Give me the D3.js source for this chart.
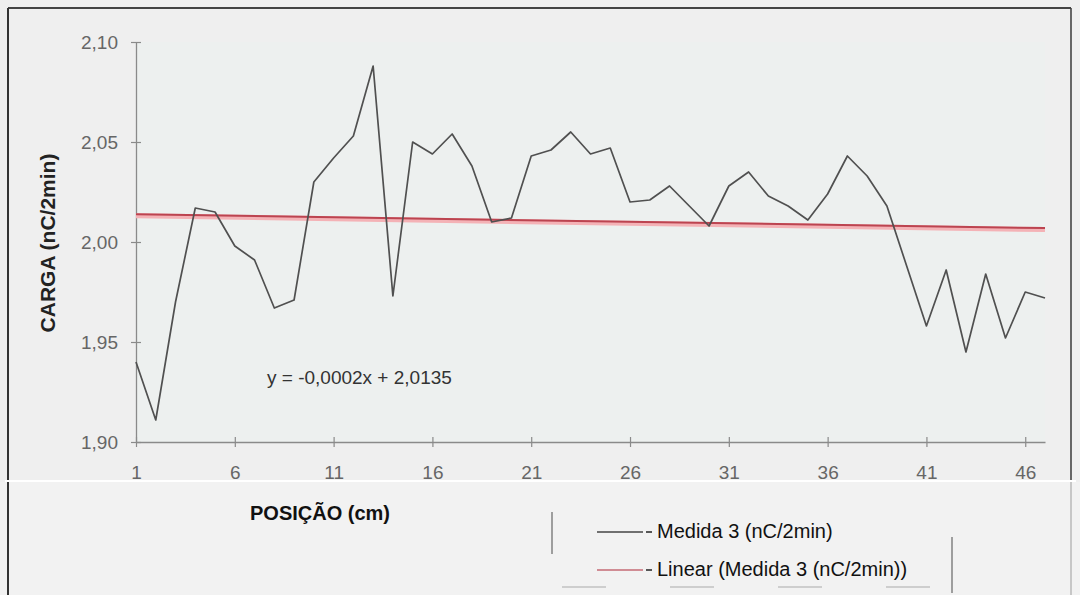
<!DOCTYPE html>
<html>
<head>
<meta charset="utf-8">
<script src="https://cdn.jsdelivr.net/npm/d3@7"></script>
<style>
  body { margin: 0; background: #efefef; }
  svg { display: block; }
</style>
</head>
<body>
<div id="chart"></div>
<script>
// positions along the sample (cm)
const positions = [1, 2, 3, 4, 5, 6, 7, 8, 9, 10, 11, 12, 13, 14, 15, 16, 17, 18, 19, 20,
  21, 22, 23, 24, 25, 26, 27, 28, 29, 30, 31, 32, 33, 34, 35, 36, 37, 38, 39, 40,
  41, 42, 43, 44, 45, 46, 47];
// Medida 3 (nC/2min)
const medida3 = [1.940, 1.911, 1.970, 2.017, 2.015, 1.998, 1.991, 1.967, 1.971, 2.030,
  2.042, 2.053, 2.088, 1.973, 2.050, 2.044, 2.054, 2.038, 2.010, 2.012,
  2.043, 2.046, 2.055, 2.044, 2.047, 2.020, 2.021, 2.028, 2.018, 2.008,
  2.028, 2.035, 2.023, 2.018, 2.011, 2.024, 2.043, 2.033, 2.018, 1.988,
  1.958, 1.986, 1.945, 1.984, 1.952, 1.975, 1.972];
// trend line as drawn on the picture
const trendSlope = -0.00015;
const trendIntercept = 2.0140;
const equationLabel = "y = -0,0002x + 2,0135";
const xTicks = [1, 6, 11, 16, 21, 26, 31, 36, 41, 46];
const yTicks = [1.90, 1.95, 2.00, 2.05, 2.10];
const legendLabels = ["Medida 3 (nC/2min)", "Linear (Medida 3 (nC/2min))"];

const font = "'Liberation Sans', Arial, sans-serif";
const locale = d3.formatLocale({ decimal: ",", thousands: ".", grouping: [3], currency: ["", ""] });
const fmt = locale.format(".2f");

const svg = d3.select("#chart").append("svg").attr("width", 1080).attr("height", 595);

// page background, lower part slightly lighter (scanned in two pieces)
svg.append("rect").attr("width", 1080).attr("height", 595).attr("fill", "#efefef");
svg.append("rect").attr("x", 0).attr("y", 482).attr("width", 1080).attr("height", 113).attr("fill", "#f2f2f2");

const x = d3.scaleLinear().domain([1, 47]).range([136, 1045]);
const y = d3.scaleLinear().domain([1.90, 2.10]).range([442, 42]);

// plot area
svg.append("rect").attr("x", x(1)).attr("y", y(2.10))
  .attr("width", x(47) - x(1)).attr("height", y(1.90) - y(2.10))
  .attr("fill", "#edf0ef");

// y axis
const yAxis = svg.append("g").attr("transform", "translate(" + x(1) + ",0)")
  .call(d3.axisLeft(y).tickValues(yTicks).tickFormat(fmt).tickSizeInner(5).tickSizeOuter(0).tickPadding(13));
yAxis.selectAll(".tick line").attr("x1", 5).attr("x2", -5);

// x axis
const xAxis = svg.append("g").attr("transform", "translate(0," + y(1.90) + ")")
  .call(d3.axisBottom(x).tickValues(xTicks).tickFormat(d3.format("d")).tickSizeInner(5).tickSizeOuter(0).tickPadding(19));
xAxis.selectAll(".tick line").attr("y1", -5).attr("y2", 5);

[yAxis, xAxis].forEach(g => {
  g.select(".domain").attr("stroke", "#8a8a8a").attr("stroke-width", 1.3);
  g.selectAll(".tick line").attr("stroke", "#8a8a8a").attr("stroke-width", 1.2);
  g.selectAll(".tick text").attr("fill", "#666").style("font-family", font).style("font-size", "19px");
});

// trend line
const trendPts = d3.extent(positions).map(p => [p, trendIntercept + trendSlope * p]);
const lineT = d3.line().x(d => x(d[0])).y(d => y(d[1]));
svg.append("path").datum(trendPts).attr("d", lineT)
  .attr("fill", "none").attr("stroke", "#f4b2b6").attr("stroke-width", 5)
  .attr("transform", "translate(0,1.5)");
svg.append("path").datum(trendPts).attr("d", lineT)
  .attr("fill", "none").attr("stroke", "#bc4450").attr("stroke-width", 2);

// series line
const lineS = d3.line().x((d, i) => x(positions[i])).y(d => y(d));
svg.append("path").datum(medida3).attr("d", lineS)
  .attr("fill", "none").attr("stroke", "#505050").attr("stroke-width", 1.7)
  .attr("stroke-linejoin", "round");

// equation
svg.append("text").attr("x", 267).attr("y", 384)
  .style("font-family", font).style("font-size", "19px").attr("fill", "#333")
  .text(equationLabel);

// axis titles
svg.append("text").attr("transform", "translate(55,243) rotate(-90)")
  .attr("text-anchor", "middle")
  .style("font-family", font).style("font-size", "21px").style("font-weight", "bold")
  .attr("fill", "#222").text("CARGA (nC/2min)");
svg.append("text").attr("x", 320).attr("y", 520).attr("text-anchor", "middle")
  .style("font-family", font).style("font-size", "20px").style("font-weight", "bold")
  .attr("fill", "#111").text("POSIÇÃO (cm)");

// legend
const legendColors = ["#454545", "#c46a74"];
const legend = svg.append("g");
legendLabels.forEach((lab, i) => {
  const ly = 532 + i * 38;
  legend.append("line").attr("x1", 597).attr("x2", 643).attr("y1", ly).attr("y2", ly)
    .attr("stroke", legendColors[i]).attr("stroke-width", 1.5);
  legend.append("line").attr("x1", 646).attr("x2", 652).attr("y1", ly).attr("y2", ly)
    .attr("stroke", "#222").attr("stroke-width", 1.5);
  legend.append("text").attr("x", 657).attr("y", ly + 6)
    .style("font-family", font).style("font-size", "20px").attr("fill", "#111")
    .text(lab);
});
// remains of the legend frame
legend.append("line").attr("x1", 552).attr("x2", 552).attr("y1", 512).attr("y2", 554)
  .attr("stroke", "#666").attr("stroke-width", 1.2);
legend.append("line").attr("x1", 952).attr("x2", 952).attr("y1", 537).attr("y2", 593)
  .attr("stroke", "#666").attr("stroke-width", 1.2);
legend.append("line").attr("x1", 562).attr("x2", 932).attr("y1", 587).attr("y2", 587)
  .attr("stroke", "#aaa").attr("stroke-width", 1.2).attr("stroke-dasharray", "44,64");

// outer frame
svg.append("line").attr("x1", 8).attr("x2", 1071).attr("y1", 8).attr("y2", 8)
  .attr("stroke", "#444").attr("stroke-width", 2);
svg.append("line").attr("x1", 8).attr("x2", 8).attr("y1", 8).attr("y2", 595)
  .attr("stroke", "#333").attr("stroke-width", 2);
svg.append("line").attr("x1", 1071).attr("x2", 1071).attr("y1", 8).attr("y2", 482)
  .attr("stroke", "#444").attr("stroke-width", 1.6);
svg.append("line").attr("x1", 1071).attr("x2", 1071).attr("y1", 482).attr("y2", 595)
  .attr("stroke", "#aaa").attr("stroke-width", 1.2);
// seam between the two scanned pieces
svg.append("line").attr("x1", 5).attr("x2", 1076).attr("y1", 481).attr("y2", 481)
  .attr("stroke", "#ffffff").attr("stroke-width", 2);
</script>
</body>
</html>
